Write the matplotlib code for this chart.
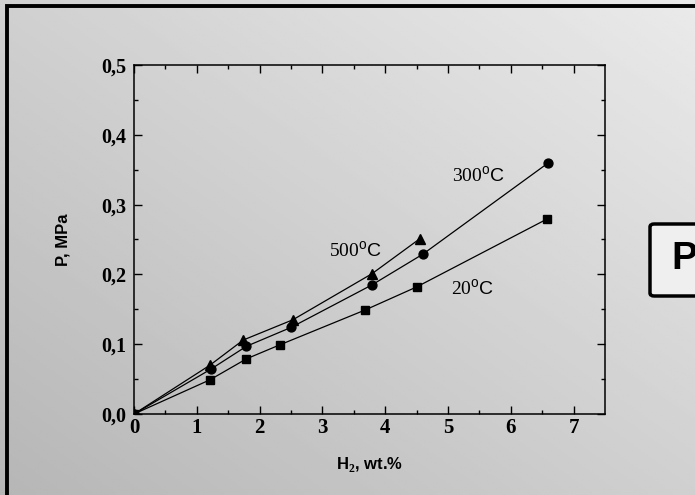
import numpy as np
import matplotlib
matplotlib.use("Agg")
import matplotlib.pyplot as plt
from matplotlib.patches import Rectangle, FancyBboxPatch

plt.rcParams["mathtext.fontset"] = "custom"
plt.rcParams["mathtext.rm"] = "Liberation Sans"
plt.rcParams["mathtext.bf"] = "Liberation Serif:bold"

# data (H2 wt.%, P MPa)
h_20 = [0, 1.21, 1.79, 2.32, 3.68, 4.50, 6.57]
p_20 = [0, 0.049, 0.079, 0.099, 0.149, 0.182, 0.279]
h_300 = [0, 1.22, 1.79, 2.50, 3.79, 4.60, 6.60]
p_300 = [0, 0.064, 0.097, 0.124, 0.185, 0.229, 0.360]
h_500 = [0, 1.21, 1.74, 2.53, 3.79, 4.55]
p_500 = [0, 0.070, 0.106, 0.135, 0.201, 0.251]

W, H = 695, 495
fig = plt.figure(figsize=(W / 100, H / 100), dpi=100)

# grey gradient backdrop
bg = fig.add_axes([0, 0, 1, 1], zorder=-5)
xx, yy = np.meshgrid(np.linspace(0, 1, 200), np.linspace(0, 1, 200))
shade = 182 + 26 * xx + 26 * (1 - yy)
bg.imshow(shade, cmap="gray", vmin=0, vmax=255, extent=[0, 1, 0, 1],
          aspect="auto", origin="upper")
bg.set_xlim(0, 1)
bg.set_ylim(0, 1)
bg.axis("off")

# outer black frame (runs off right/bottom edges)
fig.patches.append(Rectangle((6.5 / W, -0.1), 1.2, 1 - 6.5 / H + 0.1,
                             transform=fig.transFigure, fill=False,
                             edgecolor="black", linewidth=2.8, zorder=-4))
# the "P" box on the right (cut off by the edge, as in the original)
fig.patches.append(FancyBboxPatch((650 / W, 1 - 296 / H), 80 / W, 72 / H,
                                  boxstyle="round,pad=0,rounding_size=0.006",
                                  transform=fig.transFigure, facecolor="#efefef",
                                  edgecolor="black", linewidth=2.5, zorder=-3))
fig.text(671 / W, 1 - 259 / H, "P", fontsize=28, fontweight="bold",
         family="Liberation Sans", va="center", ha="left")

ax = fig.add_axes([134 / W, 1 - 414 / H, 471 / W, 349 / H])
ax.set_facecolor("none")

ax.plot(h_20, p_20, color="black", lw=0.9, marker="s", ms=6.0)
ax.plot(h_300, p_300, color="black", lw=0.9, marker="o", ms=6.4)
ax.plot(h_500, p_500, color="black", lw=0.9, marker="^", ms=7.0)

ax.set_xlim(0, 7.5)
ax.set_ylim(0, 0.5)
ax.set_xticks(range(0, 8))
ax.set_xticks(np.arange(0.5, 7.5, 1), minor=True)
ax.set_yticks(np.arange(0, 0.51, 0.1))
ax.set_yticks(np.arange(0.05, 0.5, 0.1), minor=True)
ax.set_yticklabels([f"{v:.1f}".replace(".", ",") for v in np.arange(0, 0.51, 0.1)])

for s in ax.spines.values():
    s.set_linewidth(1.1)
ax.tick_params(which="both", direction="in", top=True, right=True, width=1.0)
ax.tick_params(which="major", length=6)
ax.tick_params(axis="x", which="major", pad=3)
ax.tick_params(axis="y", which="major", pad=5.5)
ax.tick_params(which="minor", length=3)
for lab in ax.get_xticklabels():
    lab.set_family("Liberation Serif")
    lab.set_fontweight("bold")
    lab.set_fontsize(15)
for lab in ax.get_yticklabels():
    lab.set_family("Liberation Serif")
    lab.set_fontweight("bold")
    lab.set_fontsize(14.5)

ax.set_xlabel(r"H$_\mathbf{2}$, wt.%", family="Liberation Sans",
              fontweight="bold", fontsize=12, labelpad=12)
ax.set_ylabel("P, MPa", family="Liberation Sans", fontweight="bold",
              fontsize=12, labelpad=22)

lab_kw = dict(family="Liberation Serif", fontsize=14, va="center")
ax.text(5.07, 0.342, r"300$^\mathrm{o}\mathrm{C}$", **lab_kw)
ax.text(3.1, 0.234, r"500$^\mathrm{o}\mathrm{C}$", **lab_kw)
ax.text(5.04, 0.18, r"20$^\mathrm{o}\mathrm{C}$", **lab_kw)

fig.savefig("out.png", dpi=100)
